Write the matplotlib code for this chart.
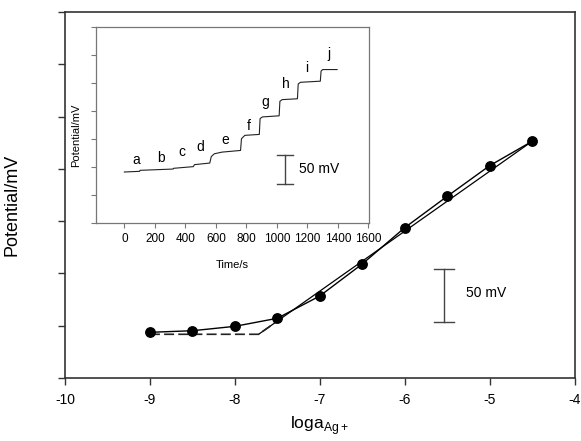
import matplotlib
matplotlib.use("Agg")
import matplotlib.pyplot as plt

plt.rcParams['font.family'] = ['Liberation Sans', 'DejaVu Sans']

# Main calibration data
log_a = [-9.0, -8.5, -8.0, -7.5, -7.0, -6.5, -6.0, -5.5, -5.0, -4.5]
potential = [43.7, 45.2, 49.4, 57.1, 78.4, 109.0, 143.7, 173.7, 203.0, 226.3]

# Linear (Nernstian) fit line and extrapolated detection-limit dashed line
fit_x = [-7.72, -4.5]
fit_y = [41.8, 226.3]
dash_x = [-9.0, -7.72, -7.5]
dash_y = [41.8, 41.8, 54.4]

# Inset time trace (staircase)
trace_t = [0, 100, 103, 320, 322, 452, 460, 560, 570, 590, 640, 762, 768, 790,
           885, 890, 905, 1015, 1020, 1035, 1135, 1140, 1155, 1285, 1290, 1300, 1395]
trace_mv = [90.4, 91.6, 93.4, 95.7, 97.0, 100.0, 103.6, 106.4, 118.0, 123.0, 126.0,
            129.0, 150.0, 156.0, 157.7, 186.0, 189.0, 191.0, 217.0, 220.0, 221.5,
            248.0, 251.0, 253.0, 271.0, 273.8, 273.8]
step_labels = ['a', 'b', 'c', 'd', 'e', 'f', 'g', 'h', 'i', 'j']
label_t = [81, 241, 380, 500, 661, 819, 924, 1062, 1198, 1344]
label_mv = [112.5, 114.8, 126.0, 134.4, 148.2, 172.5, 215.4, 248.8, 276.0, 301.8]

main_xticks = [-10, -9, -8, -7, -6, -5, -4]
inset_xticks = [0, 200, 400, 600, 800, 1000, 1200, 1400, 1600]

fig = plt.figure(figsize=(5.81, 4.41), dpi=100)
fig.patch.set_facecolor('white')

W, H = 581.0, 441.0
ax = fig.add_axes([65 / W, (H - 378) / H, (574.5 - 65) / W, (378 - 12) / H])

ax.plot(log_a, potential, color='black', lw=1.0, marker='o', ms=6.8,
        mfc='black', mec='black', zorder=4)
ax.plot(fit_x, fit_y, color='black', lw=0.9, zorder=3)
ax.plot(dash_x, dash_y, color='#222222', lw=1.2, ls=(0, (6, 2.5)), zorder=3)

ax.set_xlim(-10, -4)
ax.set_ylim(0, 350)
ax.set_xticks(main_xticks)
ax.set_xticklabels([str(v) for v in main_xticks])
ax.set_yticks([0, 50, 100, 150, 200, 250, 300, 350])
ax.set_yticklabels([])
ax.tick_params(direction='out', length=5, width=1.0, labelsize=10, pad=6,
               colors='#333333', labelcolor='black')
for s in ax.spines.values():
    s.set_linewidth(1.2)
    s.set_color('#333333')

ax.set_ylabel('Potential/mV', fontsize=13)
ax.yaxis.set_label_coords(-0.088, 0.474)
ax.text(0.5, -0.139, r'loga$_{\mathregular{Ag+}}$', transform=ax.transAxes,
        ha='center', va='baseline', fontsize=12.5)

# Main scale bar (50 mV)
ax.plot([-5.54, -5.54], [53.8, 104.2], color='#444444', lw=1.0)
ax.plot([-5.66, -5.42], [53.8, 53.8], color='#444444', lw=1.0)
ax.plot([-5.66, -5.42], [104.2, 104.2], color='#444444', lw=1.0)
ax.text(-5.28, 81, '50 mV', fontsize=10, va='center', ha='left')

# Inset
ins = fig.add_axes([96 / W, (H - 222.5) / H, (368.5 - 96) / W, (222.5 - 27) / H])
ins.plot(trace_t, trace_mv, color='#222222', lw=0.8)
for lab, t, v in zip(step_labels, label_t, label_mv):
    ins.text(t, v, lab, fontsize=10, ha='center', va='center')
ins.set_xlim(-186, 1601)
ins.set_ylim(0, 350)
ins.set_xticks(inset_xticks)
ins.set_xticklabels([str(v) for v in inset_xticks])
ins.set_yticks([0, 50, 100, 150, 200, 250, 300, 350])
ins.set_yticklabels([])
ins.tick_params(direction='out', length=3.5, width=0.8, labelsize=8.5, pad=4,
                colors='#777777', labelcolor='black')
for s in ins.spines.values():
    s.set_linewidth(0.9)
    s.set_color('#777777')
ins.set_xlabel('Time/s', fontsize=8, labelpad=11)
ins.set_ylabel('Potential/mV', fontsize=8)
ins.yaxis.set_label_coords(-0.055, 0.448)

# Inset scale bar (50 mV)
ins.plot([1055, 1055], [69, 120.2], color='#444444', lw=1.0)
ins.plot([1002, 1108], [69, 69], color='#444444', lw=1.0)
ins.plot([1002, 1108], [120.2, 120.2], color='#444444', lw=1.0)
ins.text(1147, 96.4, '50 mV', fontsize=10, va='center', ha='left')

fig.savefig('out.png', dpi=100, facecolor='white')
